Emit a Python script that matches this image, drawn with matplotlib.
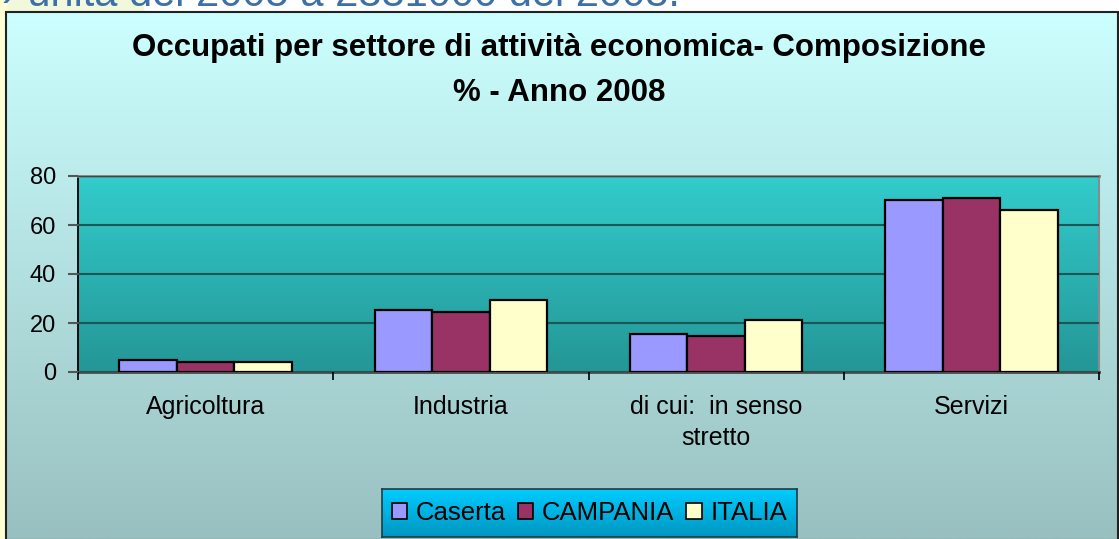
import matplotlib

matplotlib.use("Agg")
import matplotlib.pyplot as plt
import numpy as np
from matplotlib.colors import LinearSegmentedColormap
from matplotlib.patches import Patch, Rectangle

plt.rcParams["font.family"] = ["Liberation Sans", "DejaVu Sans"]

categories = ["Agricoltura", "Industria", "di cui:  in senso\nstretto", "Servizi"]
series_names = ["Caserta", "CAMPANIA", "ITALIA"]
caserta = [4.9, 25.3, 15.6, 70.2]
campania = [4.2, 24.4, 14.7, 71.0]
italia = [4.2, 29.4, 21.2, 66.1]
series_colors = ["#9999FF", "#993366", "#FFFFCC"]
yticks = [0, 20, 40, 60, 80]

W, H = 1119, 539
fig = plt.figure(figsize=(W / 100, H / 100), dpi=100)
fig.patch.set_facecolor("white")


def gradient(ax, top, bottom, extent):
    cmap = LinearSegmentedColormap.from_list("g", [bottom, top])
    grad = np.linspace(0, 1, 256).reshape(-1, 1)
    ax.imshow(grad, cmap=cmap, aspect="auto", extent=extent, origin="lower", zorder=0)


# slide remnants: pale strip on the left and clipped heading on top
bg = fig.add_axes([0, 0, 1, 1])
bg.axis("off")
bg.add_patch(Rectangle((0, 0), 143, 12, color="#F2F8DC", zorder=0))
bg.add_patch(Rectangle((0, 0), 6, H, color="#FFFFD4", zorder=0))
gradient(bg, "#CCFFFF", "#99C0C0", (6, W - 1, H, 12))
bg.add_patch(Rectangle((6, 12), W - 7.5, H - 11, fill=False, ec="#222222", lw=1.5, zorder=2))
bg.text(2, 6, "› unità del 2005 a 2331000 del 2008.", fontsize=30, color="#3D6FA8",
        va="baseline", ha="left", zorder=1)
bg.set_xlim(0, W)
bg.set_ylim(H, 0)

fig.text(0.5, 1 - 48 / H, "Occupati per settore di attività economica- Composizione",
         ha="center", va="center", fontsize=22.5, fontweight="bold")
fig.text(0.5, 1 - 93 / H, "% - Anno 2008", ha="center", va="center",
         fontsize=22.5, fontweight="bold")

ax = fig.add_axes([78 / W, 1 - 372 / H, (1099 - 78) / W, (372 - 176) / H])
x = np.arange(len(categories))
gradient(ax, "#33CCCC", "#249696", (-0.5, len(categories) - 0.5, 0, 80))
bw = 0.225
for i, (vals, col, name) in enumerate(zip([caserta, campania, italia], series_colors, series_names)):
    ax.bar(x + (i - 1) * bw, vals, width=bw, color=col, edgecolor="black", lw=1.6,
           label=name, zorder=3)

ax.set_xlim(-0.5, len(categories) - 0.5)
ax.set_ylim(0, 80)
ax.set_yticks(yticks)
ax.set_yticklabels([str(v) for v in yticks], fontsize=17)
ax.yaxis.grid(True, color="#1E5656", lw=1.5, zorder=1)
ax.set_axisbelow(False)
ax.set_xticks(np.arange(len(categories) + 1) - 0.5)
ax.set_xticklabels([])
ax.tick_params(axis="x", direction="out", length=6, width=1.2, color="black")
ax.tick_params(axis="y", direction="out", length=7, width=1.5, color="#555555", pad=9)
for xi, lab in zip(x, categories):
    ax.text(xi, -9.5, lab, ha="center", va="top", fontsize=18, linespacing=1.35)
ax.spines["left"].set_color("black")
ax.spines["left"].set_linewidth(1.3)
ax.spines["bottom"].set_color("#4A4A4A")
ax.spines["bottom"].set_linewidth(2)
ax.spines["top"].set_color("#7F7F7F")
ax.spines["top"].set_linewidth(2)
ax.spines["right"].set_color("#8A8A8A")
ax.spines["right"].set_linewidth(1.5)

# legend box with gradient fill
lax = fig.add_axes([382 / W, 1 - 537 / H, (797 - 382) / W, (537 - 489) / H])
gradient(lax, "#00CCFF", "#0096C0", (0, 1, 0, 1))
lax.set_xlim(0, 1)
lax.set_ylim(0, 1)
lax.set_xticks([])
lax.set_yticks([])
for s in lax.spines.values():
    s.set_color("#1E3C46")
    s.set_linewidth(1.2)
handles = [Patch(facecolor=c, edgecolor="black", lw=1.2, label=n)
           for c, n in zip(series_colors, series_names)]
lax.legend(handles=handles, loc="center", ncol=3, frameon=False, fontsize=18.5,
           handlelength=0.6, handleheight=0.6, handletextpad=0.35, columnspacing=0.45,
           borderaxespad=0)

fig.savefig("out.png", dpi=100)
